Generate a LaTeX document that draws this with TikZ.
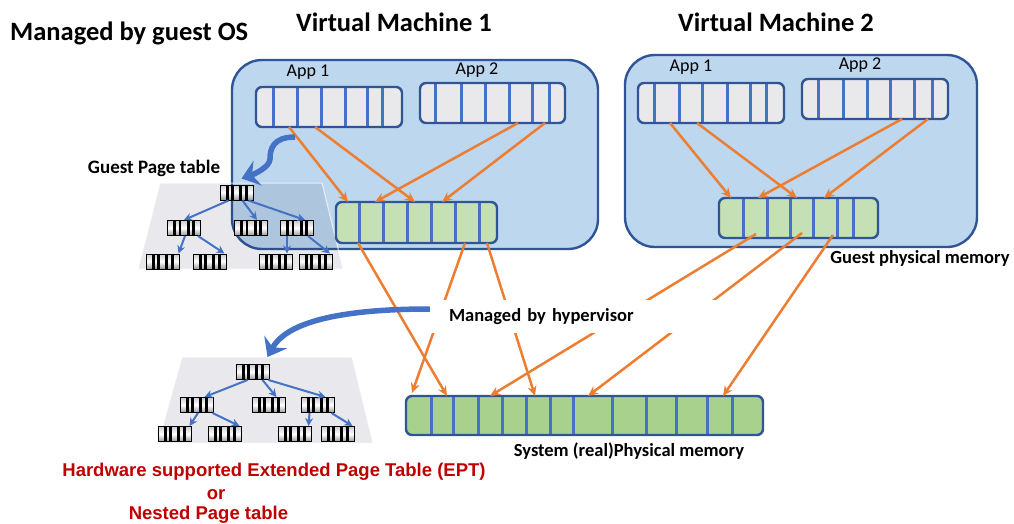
\documentclass[tikz,border=0pt]{standalone}
\usepackage{fontspec}
\setmainfont{Carlito}
\newfontfamily\arialfont{Liberation Sans}
\usetikzlibrary{arrows.meta}
\definecolor{vmfill}{RGB}{189,215,238}
\definecolor{vmedge}{RGB}{47,85,151}
\definecolor{appfill}{RGB}{233,233,235}
\definecolor{gpmfill}{RGB}{197,224,180}
\definecolor{spmfill}{RGB}{169,209,142}
\definecolor{divblue}{RGB}{68,114,196}
\definecolor{arrorange}{RGB}{237,125,49}
\definecolor{ptblue}{RGB}{68,114,196}
\definecolor{trapshade}{RGB}{40,40,80}
\definecolor{eptred}{RGB}{192,0,0}
\tikzset{
  vmbox/.style={draw=vmedge, line width=2.4pt, fill=vmfill, rounded corners=30pt, inner sep=0pt},
  membox/.style={draw=vmedge, line width=2.4pt, rounded corners=6pt, inner sep=0pt, outer sep=0pt},
  cells/.style={path picture={\foreach \d in {#1}
      \draw[divblue, line width=3pt] ([xshift=\d pt]path picture bounding box.south west)
        -- ([xshift=\d pt]path picture bounding box.north west);}},
  pte/.style={draw=black, line width=1pt, minimum width=33pt, minimum height=15pt,
    inner sep=0pt, top color=black!20, bottom color=black!40, middle color=white,
    path picture={\foreach \a/\b in {5.5/8.5,11/13.5,19/22,24.5/27.5}
      \fill[black] ([xshift=\a pt]path picture bounding box.south west)
        rectangle ([xshift=\b pt]path picture bounding box.north west);}},
  trapezium/.style={fill=trapshade, fill opacity=0.1, draw=white, draw opacity=0.7, line width=1pt},
  oarrow/.style={arrorange, line width=2.5pt, -{Stealth[length=10pt,width=9pt]}},
  parrow/.style={ptblue, line width=2pt, -{Stealth[length=8pt,width=8pt]}},
  bigarrow/.style={ptblue, line width=5.5pt, -{Stealth[length=17pt,width=26pt,inset=6pt]}},
  title/.style={font=\fontsize{26.5}{30}\selectfont\bfseries, inner sep=0pt},
  applabel/.style={font=\fontsize{18}{21}\selectfont, inner sep=0pt},
  caption/.style={font=\fontsize{18.5}{21}\selectfont\bfseries, inner sep=0pt},
  redlabel/.style={font=\arialfont\fontsize{18.5}{21}\selectfont\bfseries, text=eptred, inner sep=0pt}
}
\begin{document}
\begin{tikzpicture}[x=1pt,y=-1pt]
\useasboundingbox (0,0) rectangle (1014,524);

% virtual machine frames
\node[vmbox, minimum width=366pt, minimum height=189pt] (vm1) at (415,154.5) {};
\node[vmbox, minimum width=352pt, minimum height=192pt] (vm2) at (801,151) {};

% page table backgrounds
\draw[trapezium] (160,183) -- (322,183) -- (343,269) -- (138,269) -- cycle;
\draw[trapezium] (182,357) -- (352,357) -- (373,443) -- (158,443) -- cycle;

% memory rows
\node[membox, fill=appfill, minimum width=146pt, minimum height=40pt, cells={17,41,65,89,111,126}] (vm1a1) at (329,107) {};
\node[membox, fill=appfill, minimum width=145pt, minimum height=40pt, cells={15,41,65,89,112,129}] (vm1a2) at (492.5,103) {};
\node[membox, fill=gpmfill, minimum width=161pt, minimum height=41pt, cells={23,47,71,95,119,143}] (gpm1) at (416.5,222.5) {};
\node[membox, fill=appfill, minimum width=146pt, minimum height=40pt, cells={16,41,64,89,112,128}] (vm2a1) at (711,103) {};
\node[membox, fill=appfill, minimum width=146pt, minimum height=40pt, cells={16,41,65,88,112,130}] (vm2a2) at (875,99) {};
\node[membox, fill=gpmfill, minimum width=159pt, minimum height=40pt, cells={24,48,71,94,118,134}] (gpm2) at (798.5,218) {};
\node[membox, fill=spmfill, minimum width=357pt, minimum height=39pt, cells={25,47,72,96,120,144,167,206,240,270,301,326}] (spm) at (584.5,415.5) {};

% guest page table
\node[pte] (g0) at (236.5,192.5) {};
\node[pte] (g1) at (184,228) {};
\node[pte] (g2) at (251,228) {};
\node[pte] (g3) at (297,228) {};
\node[pte] (g4) at (162.5,261.5) {};
\node[pte] (g5) at (209.5,261.5) {};
\node[pte] (g6) at (275.5,261.5) {};
\node[pte] (g7) at (315.5,261.5) {};
\draw[parrow] ([xshift=-8pt]g0.south) -- (g1.north);
\draw[parrow] ([xshift=6pt]g0.south) -- ([xshift=6pt]g2.north);
\draw[parrow] ([xshift=12pt]g0.south) -- ([xshift=8pt]g3.north);
\draw[parrow] ([xshift=1pt]g1.south) -- ([xshift=16pt]g4.north);
\draw[parrow] ([xshift=14pt]g1.south) -- ([xshift=15pt]g5.north);
\draw[parrow] ([xshift=-10pt]g3.south) -- ([xshift=11.5pt]g6.north);
\draw[parrow] ([xshift=11pt]g3.south) -- ([xshift=14.5pt]g7.north);

% extended (nested) page table
\node[pte] (e0) at (252.5,372) {};
\node[pte] (e1) at (196.5,405) {};
\node[pte] (e2) at (268.5,405) {};
\node[pte] (e3) at (317.5,405) {};
\node[pte] (e4) at (174.5,434) {};
\node[pte] (e5) at (224.5,434) {};
\node[pte] (e6) at (294.5,434) {};
\node[pte] (e7) at (337.5,434) {};
\draw[parrow] ([xshift=-5pt]e0.south) -- ([xshift=8pt]e1.north);
\draw[parrow] ([xshift=10pt]e0.south) -- ([xshift=8pt]e2.north);
\draw[parrow] ([xshift=16pt]e0.south) -- ([xshift=8pt]e3.north);
\draw[parrow] ([xshift=1.5pt]e1.south) -- ([xshift=15pt]e4.north);
\draw[parrow] ([xshift=16pt]e1.south) -- ([xshift=15pt]e5.north);
\draw[parrow] ([xshift=-8pt]e3.south) -- ([xshift=14pt]e6.north);
\draw[parrow] ([xshift=14pt]e3.south) -- ([xshift=15pt]e7.north);

% guest virtual -> guest physical
\draw[oarrow] ([xshift=33pt]vm1a1.south west) -- ([xshift=12pt]gpm1.north west);
\draw[oarrow] ([xshift=59pt]vm1a1.south west) -- ([xshift=79pt]gpm1.north west);
\draw[oarrow] ([xshift=98pt]vm1a2.south west) -- ([xshift=39pt]gpm1.north west);
\draw[oarrow] ([xshift=125pt]vm1a2.south west) -- ([xshift=106pt]gpm1.north west);
\draw[oarrow] ([xshift=32pt]vm2a1.south west) -- ([xshift=12pt]gpm2.north west);
\draw[oarrow] ([xshift=59pt]vm2a1.south west) -- ([xshift=78pt]gpm2.north west);
\draw[oarrow] ([xshift=100pt]vm2a2.south west) -- ([xshift=39pt]gpm2.north west);
\draw[oarrow] ([xshift=126pt]vm2a2.south west) -- ([xshift=105pt]gpm2.north west);

% guest physical -> system physical
\draw[oarrow] ([xshift=22pt]gpm1.south west) -- ([xshift=41pt]spm.north west);
\draw[oarrow] ([xshift=129pt]gpm1.south west) -- ([xshift=6pt,yshift=3pt]spm.north west);
\draw[oarrow] ([xshift=151pt]gpm1.south west) -- ([xshift=129pt]spm.north west);
\draw[oarrow] ([xshift=37pt,yshift=4pt]gpm2.south west) -- ([xshift=84pt]spm.north west);
\draw[oarrow] ([xshift=83pt,yshift=5pt]gpm2.south west) -- ([xshift=182pt]spm.north west);
\draw[oarrow] ([xshift=114pt,yshift=3pt]gpm2.south west) -- ([xshift=317pt]spm.north west);

% hypervisor label on a white band
\node[caption, fill=white, minimum width=290pt, minimum height=33pt, text width=252pt,
  align=left, inner xsep=19pt] (hv) at (575,316.5) {Managed by hypervisor};

% management arrows
\draw[bigarrow] ([xshift=39pt,yshift=-10pt]vm1a1.south west)
  .. controls +(-22,0) and +(0,-10) .. ++(-25,22)
  .. controls +(0,8) and +(12,-4) .. ([xshift=5pt,yshift=6pt]g0.north);
\draw[bigarrow] ([yshift=7.5pt]hv.west)
  .. controls +(-70,0) and +(22,-40) .. ([xshift=15pt,yshift=7pt]e0.north);

% labels
\node[title, anchor=west] (guestos) at (10,33) {Managed by guest OS};
\node[title] (vm1t) at (394,22) {Virtual Machine 1};
\node[title] (vm2t) at (776,22) {Virtual Machine 2};
\node[applabel] (l11) at (308,72) {App 1};
\node[applabel] (l12) at (477,70) {App 2};
\node[applabel] (l21) at (691,67) {App 1};
\node[applabel] (l22) at (860,65) {App 2};
\node[caption, font=\fontsize{19}{22}\selectfont\bfseries] (gpt) at (154,168) {Guest Page table};
\node[caption] (gpmt) at (920,258) {Guest physical memory};
\node[caption] (spmt) at (629,451) {System (real)Physical memory};
\node[redlabel] (ept1) at (274,472) {Hardware supported Extended Page Table (EPT)};
\node[redlabel] (ept2) at (216,495) {or};
\node[redlabel] (ept3) at (208.5,515) {Nested Page table};
\end{tikzpicture}
\end{document}
